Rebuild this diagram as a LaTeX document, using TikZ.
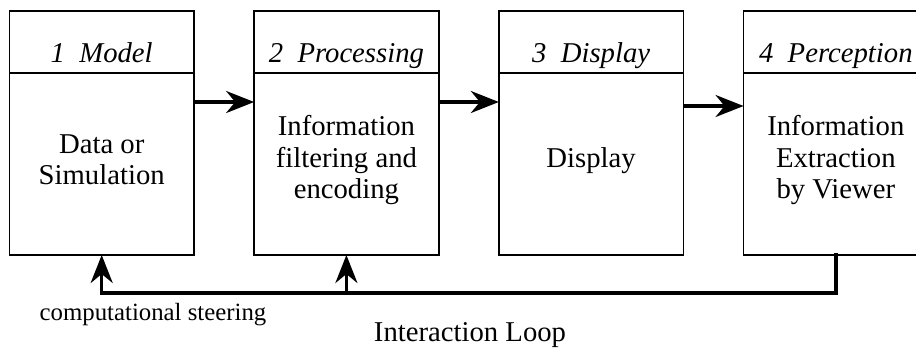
\documentclass[tikz,border=0pt]{standalone}
\usepackage{fontspec}
\setmainfont{Liberation Serif}
\usetikzlibrary{arrows.meta,positioning}

\begin{document}
\begin{tikzpicture}[
            x=0.5pt, y=-0.5pt,
            stage/.style={draw, line width=0.85pt, minimum width=92.25pt, minimum height=122pt, inner sep=0pt, outer sep=0pt},
            head/.style={font=\fontsize{14.35}{16}\selectfont\itshape, anchor=base, inner sep=0pt},
            body/.style={font=\fontsize{14.35}{15.75}\selectfont, align=center, inner sep=0pt},
            flow/.style={line width=1.65pt, -{Stealth[length=14pt, width=11pt, inset=4.5pt]}},
            loopline/.style={line width=2pt, line cap=rect}
        ]

            \useasboundingbox (0,0) rectangle (916,349);
            \clip (0,0) rectangle (916,349);

            \node[stage] (model) at (101.7,133) {};
            \node[stage, right=30.1pt of model] (proc) {};
            \node[stage, right=30.1pt of proc] (disp) {};
            \node[stage, right=30.1pt of disp] (percep) {};

            \foreach \b in {model,proc,disp,percep}
                \draw[line width=0.85pt] ([yshift=-30.85pt]\b.north west) -- ([yshift=-30.85pt]\b.north east);

            \node[head] (modelhd) at ([yshift=-25.75pt]model.north) {1\ \ Model};
            \node[head] (prochd) at ([yshift=-25.75pt]proc.north) {2\ \ Processing};
            \node[head] (disphd) at ([yshift=-25.75pt]disp.north) {3\ \ Display};
            \node[head] (percephd) at ([yshift=-25.75pt]percep.north) {4\ \ Perception};

            \node[body] (modeltxt) at ([yshift=-13.25pt]model.center) {Data or\\Simulation};
            \node[body] (proctxt) at ([yshift=-13.5pt]proc.center) {Information\\filtering and\\encoding};
            \node[body] (disptxt) at ([yshift=-14pt]disp.center) {Display};
            \node[body] (perceptxt) at ([yshift=-13.5pt]percep.center) {Information\\Extraction\\by Viewer};

            \draw[flow] ([yshift=15.5pt]model.east) -- ([yshift=15.5pt]proc.west);
            \draw[flow] ([yshift=15.5pt]proc.east) -- ([yshift=15.5pt]disp.west);
            \draw[flow] ([yshift=13.5pt]disp.east) -- ([yshift=13.5pt]percep.west);

            \coordinate (bus) at (0,293);
            \draw[loopline] (percep.south) |- (model.south |- bus);
            \draw[flow] (model.south |- bus) -- (model.south);
            \draw[flow] (proc.south |- bus) -- (proc.south);

            \node[font=\fontsize{12.4}{14}\selectfont, inner sep=0pt] (steerlbl) at (153,314.5) {computational steering};
            \node[font=\fontsize{14.35}{16}\selectfont, inner sep=0pt] (looplbl) at (470,335) {Interaction Loop};
        \end{tikzpicture}
\end{document}
